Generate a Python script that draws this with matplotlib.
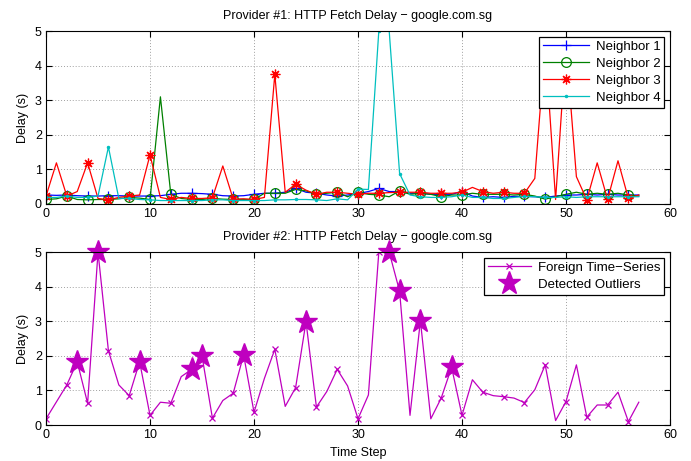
import numpy as np
import matplotlib
matplotlib.use("Agg")
import matplotlib.pyplot as plt

plt.rcParams["font.family"] = ["Liberation Sans", "DejaVu Sans"]
plt.rcParams["font.size"] = 9

# ---- data ----
steps = np.arange(58)

neighbor1 = [0.26, 0.25, 0.26, 0.24, 0.23, 0.23, 0.24, 0.24, 0.23, 0.23,
             0.23, 0.24, 0.28, 0.31, 0.31, 0.30, 0.28, 0.24, 0.23, 0.24,
             0.28, 0.31, 0.31, 0.34, 0.45, 0.34, 0.31, 0.26, 0.23, 0.26,
             0.30, 0.36, 0.45, 0.36, 0.36, 0.31, 0.31, 0.28, 0.28, 0.28,
             0.36, 0.23, 0.19, 0.21, 0.19, 0.22, 0.22, 0.21, 0.19, 0.23,
             0.26, 0.26, 0.28, 0.26, 0.28, 0.26, 0.26, 0.26]

neighbor2 = [0.13, 0.15, 0.23, 0.13, 0.12, 0.13, 0.13, 0.15, 0.19, 0.17,
             0.13, 3.10, 0.28, 0.16, 0.13, 0.13, 0.16, 0.14, 0.13, 0.13,
             0.13, 0.31, 0.31, 0.31, 0.42, 0.38, 0.28, 0.31, 0.34, 0.21,
             0.34, 0.28, 0.26, 0.21, 0.38, 0.28, 0.31, 0.28, 0.21, 0.26,
             0.26, 0.31, 0.28, 0.28, 0.28, 0.26, 0.28, 0.23, 0.14, 0.21,
             0.28, 0.34, 0.28, 0.31, 0.28, 0.31, 0.26, 0.23]

neighbor3 = [0.23, 1.19, 0.23, 0.36, 1.19, 0.16, 0.12, 0.19, 0.23, 0.26,
             1.42, 0.19, 0.13, 0.19, 0.16, 0.16, 0.18, 1.10, 0.14, 0.15,
             0.13, 0.19, 3.75, 0.34, 0.57, 0.40, 0.28, 0.34, 0.34, 0.31,
             0.28, 0.31, 0.31, 0.33, 0.34, 0.34, 0.34, 0.31, 0.31, 0.31,
             0.34, 0.48, 0.36, 0.31, 0.34, 0.31, 0.31, 0.74, 4.60, 0.13,
             4.60, 0.79, 0.12, 1.19, 0.13, 1.25, 0.16, 0.26]

neighbor4 = [0.19, 0.19, 0.23, 0.19, 0.19, 0.23, 1.65, 0.16, 0.16, 0.13,
             0.12, 0.10, 0.10, 0.10, 0.10, 0.10, 0.12, 0.12, 0.10, 0.10,
             0.10, 0.10, 0.12, 0.12, 0.13, 0.13, 0.12, 0.10, 0.15, 0.12,
             0.43, 0.42, 5.00, 5.00, 0.88, 0.26, 0.21, 0.19, 0.19, 0.21,
             0.26, 0.19, 0.19, 0.16, 0.16, 0.19, 0.22, 0.21, 0.19, 0.19,
             0.21, 0.19, 0.21, 0.21, 0.21, 0.21, 0.21, 0.21]

foreign = [0.18, 0.67, 1.16, 1.83, 0.63, 5.00, 2.15, 1.16, 0.85, 1.83,
           0.28, 0.66, 0.63, 1.40, 1.61, 2.00, 0.20, 0.71, 0.92, 2.03,
           0.37, 1.35, 2.19, 0.54, 1.08, 2.99, 0.52, 0.97, 1.61, 1.13,
           0.18, 0.87, 5.00, 5.00, 3.87, 0.28, 3.02, 0.18, 0.78, 1.67,
           0.28, 1.31, 0.95, 0.85, 0.82, 0.78, 0.65, 1.02, 1.74, 0.13,
           0.68, 1.74, 0.23, 0.58, 0.58, 0.95, 0.10, 0.66]

outlier_idx = [3, 5, 9, 14, 15, 19, 25, 33, 34, 36, 39]

title_top = "Provider #1: HTTP Fetch Delay \u2212 google.com.sg"
title_bot = "Provider #2: HTTP Fetch Delay \u2212 google.com.sg"

# matlab default-ish colours
C_BLUE = (0, 0, 1)
C_GREEN = (0, 0.5, 0)
C_RED = (1, 0, 0)
C_CYAN = (0, 0.75, 0.75)
C_MAG = (0.75, 0, 0.75)


def style_axes(ax):
    ax.set_xlim(0, 60)
    ax.set_ylim(0, 5)
    ax.set_xticks(range(0, 61, 10))
    ax.set_yticks(range(0, 6))
    ax.grid(True, linestyle=(0, (1, 2)), color="#a0a0a0", lw=0.7)
    ax.tick_params(direction="in", top=True, right=True, length=4, width=0.8,
                   labelsize=9, pad=3)
    for s in ax.spines.values():
        s.set_linewidth(0.8)
        s.set_color("black")
    ax.set_ylabel("Delay (s)", fontsize=9, labelpad=4)


def add_legend(ax, hl):
    leg = ax.legend(loc="upper right", fontsize=9.5, fancybox=False,
                    framealpha=1, edgecolor="black", borderaxespad=0.45,
                    handlelength=hl, handletextpad=0.5, labelspacing=0.36,
                    borderpad=0.28)
    leg.get_frame().set_linewidth(0.9)
    leg.set_zorder(10)
    return leg


fig = plt.figure(figsize=(6.91, 4.61), dpi=100)
ax1 = fig.add_axes([0.0666, 0.5575, 0.903, 0.375])
ax2 = fig.add_axes([0.0666, 0.078, 0.903, 0.375])

lw = 0.9
ax1.plot(steps, neighbor1, color=C_BLUE, lw=lw, marker="+", ms=7, mew=0.9,
         markevery=2, label="Neighbor 1")
ax1.plot(steps, neighbor2, color=C_GREEN, lw=lw, marker="o", ms=7, mew=0.9,
         mfc="none", markevery=2, label="Neighbor 2")
ax1.plot(steps, neighbor3, color=C_RED, lw=lw, marker=(8, 2, 0), ms=7, mew=0.9,
         markevery=2, label="Neighbor 3")
ax1.plot(steps, neighbor4, color=C_CYAN, lw=lw, marker=".", ms=3,
         markevery=2, label="Neighbor 4")
style_axes(ax1)
ax1.set_title(title_top, fontsize=9, pad=9)
add_legend(ax1, 3.5)

ax2.plot(steps, foreign, color=C_MAG, lw=lw, marker="x", ms=5, mew=0.9,
         markevery=2, label="Foreign Time\u2212Series")
ax2.plot(steps[outlier_idx], np.array(foreign)[outlier_idx], linestyle="none",
         marker="*", ms=17, color=C_MAG, mec=C_MAG, clip_on=False,
         label="Detected Outliers")
style_axes(ax2)
ax2.set_title(title_bot, fontsize=9, pad=9)
ax2.set_xlabel("Time Step", fontsize=9, labelpad=4)
add_legend(ax2, 3.3)

fig.savefig("out.png", dpi=100)
